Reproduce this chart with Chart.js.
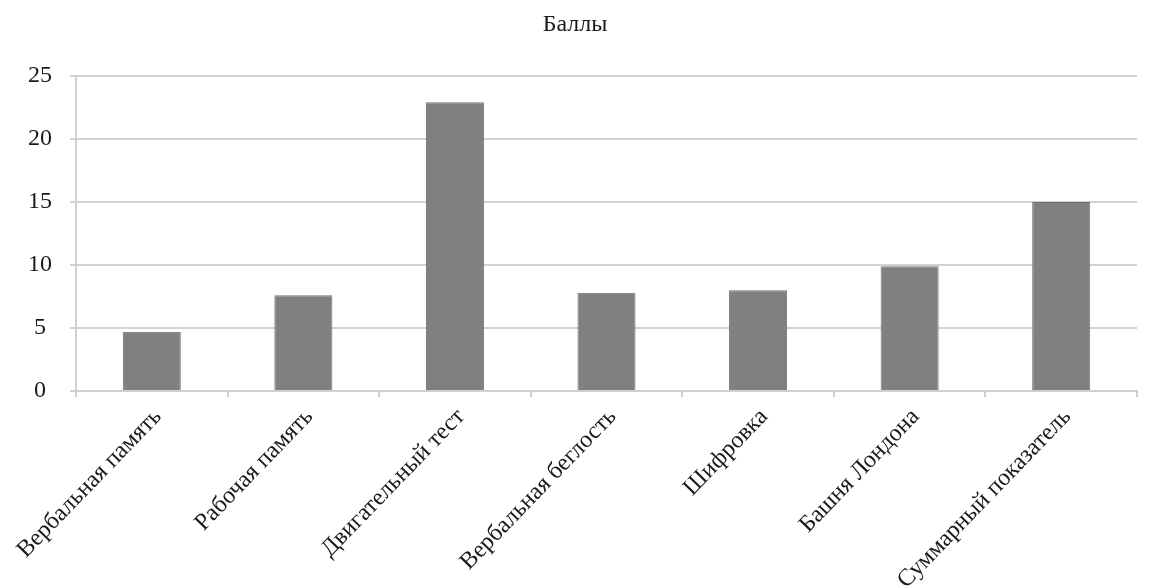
<!DOCTYPE html>
<html lang="ru">
<head>
<meta charset="utf-8">
<title>Баллы</title>
<script src="https://cdn.jsdelivr.net/npm/chart.js@4/dist/chart.umd.min.js"></script>
<style>
  html, body { margin: 0; padding: 0; background: #ffffff; }
  #wrap { width: 1163px; height: 588px; position: relative; }
</style>
</head>
<body>
<div id="wrap"><canvas id="chart"></canvas></div>
<script>
// Test categories and their scores
const categories = [
  'Вербальная память',
  'Рабочая память',
  'Двигательный тест',
  'Вербальная беглость',
  'Шифровка',
  'Башня Лондона',
  'Суммарный показатель'
];
const scores = [4.7, 7.6, 22.9, 7.8, 8.0, 9.9, 15.0];
const yTicks = [0, 5, 10, 15, 20, 25];
const chartTitle = 'Баллы';

const serif = '"Liberation Serif", "Times New Roman", serif';

new Chart(document.getElementById('chart'), {
  type: 'bar',
  data: {
    labels: categories,
    datasets: [{
      label: chartTitle,
      data: scores,
      backgroundColor: '#808080',
      borderColor: '#737373',
      borderWidth: 1,
      barPercentage: 0.383,
      categoryPercentage: 1.0
    }]
  },
  options: {
    responsive: true,
    maintainAspectRatio: false,
    animation: false,
    layout: { padding: { left: 13, right: 26, top: 0, bottom: 0 } },
    plugins: {
      legend: { display: false },
      tooltip: { enabled: false },
      title: {
        display: true,
        text: chartTitle,
        color: '#1a1a1a',
        font: { family: serif, size: 24, weight: 'normal' },
        padding: { top: 10, bottom: 37 }
      }
    },
    scales: {
      x: {
        offset: true,
        grid: {
          offset: true,
          drawOnChartArea: false,
          drawTicks: true,
          tickLength: 6,
          color: '#d0d0d0',
          lineWidth: 2
        },
        border: { display: true, color: '#cfcfcf', width: 2 },
        ticks: {
          autoSkip: false,
          minRotation: 46,
          maxRotation: 46,
          padding: 6,
          labelOffset: 6,
          color: '#1a1a1a',
          font: { family: serif, size: 24 }
        },
        afterFit: (scale) => { scale.height = 197; }
      },
      y: {
        min: 0,
        max: 25,
        afterBuildTicks: (scale) => { scale.ticks = yTicks.map(v => ({ value: v })); },
        grid: {
          drawTicks: true,
          tickLength: 6,
          color: '#d2d2d2',
          lineWidth: 2
        },
        border: { display: true, color: '#d0d0d0', width: 2 },
        ticks: {
          padding: 18,
          crossAlign: 'center',
          color: '#1a1a1a',
          font: { family: serif, size: 24 }
        },
        afterFit: (scale) => { scale.width = 63; }
      }
    }
  }
});
</script>
</body>
</html>
